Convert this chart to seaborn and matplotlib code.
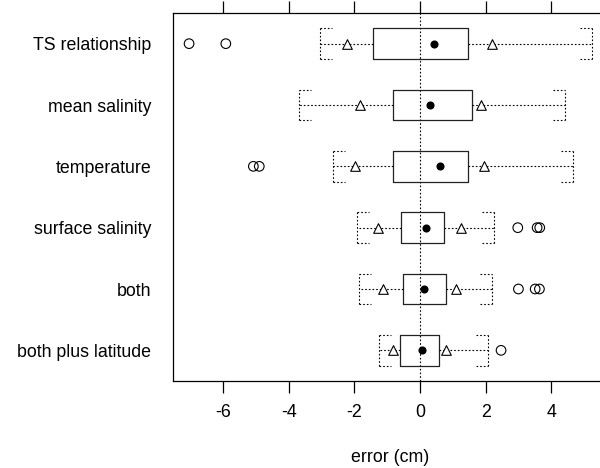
import numpy as np
import pandas as pd
import matplotlib
matplotlib.use("Agg")
import matplotlib.pyplot as plt
import seaborn as sns

# ---- data ----
categories = ["TS relationship", "mean salinity", "temperature",
              "surface salinity", "both", "both plus latitude"]
box_low = [-1.43, -0.81, -0.81, -0.57, -0.52, -0.62]
box_high = [1.45, 1.58, 1.47, 0.73, 0.79, 0.57]
means = [0.44, 0.31, 0.62, 0.17, 0.11, 0.07]
tri_low = [-2.23, -1.84, -1.97, -1.27, -1.12, -0.83]
tri_high = [2.20, 1.85, 1.96, 1.26, 1.10, 0.80]
whisk_low = [-3.05, -3.68, -2.66, -1.92, -1.86, -1.26]
whisk_high = [5.25, 4.43, 4.67, 2.26, 2.19, 2.08]
outlier_cat = ["TS relationship", "TS relationship", "temperature", "temperature",
               "surface salinity", "surface salinity", "surface salinity",
               "both", "both", "both", "both plus latitude"]
outlier_val = [-7.04, -5.92, -5.08, -4.90, 2.98, 3.57, 3.65, 3.00, 3.51, 3.64, 2.47]
x_ticks = [-6, -4, -2, 0, 2, 4]
x_label = "error (cm)"

sns.set_theme(style="white")
plt.rcParams["font.family"] = ["Liberation Sans", "DejaVu Sans"]
for k in ("text.color", "axes.labelcolor", "xtick.color", "ytick.color", "axes.edgecolor"):
    plt.rcParams[k] = "black"

n = len(categories)
pos_map = {c: n - i for i, c in enumerate(categories)}
positions = [pos_map[c] for c in categories]

summary = pd.DataFrame({"cat": categories, "pos": positions, "mean": means,
                        "tri_low": tri_low, "tri_high": tri_high})
outl = pd.DataFrame({"cat": outlier_cat, "val": outlier_val})
outl["pos"] = outl["cat"].map(pos_map)

fig = plt.figure(figsize=(6.0, 4.68), dpi=100)
ax = fig.add_axes([173 / 600, 87 / 468, 434 / 600, 368 / 468])

dot = (0, (1.5, 1.8))
BW = 0.5
ARM = 0.37

stats = [dict(q1=lo, q3=hi, med=m, whislo=wl, whishi=wh, fliers=[])
         for lo, hi, m, wl, wh in zip(box_low, box_high, means, whisk_low, whisk_high)]
ax.bxp(stats, positions=positions, widths=BW, orientation="horizontal",
       showfliers=False, manage_ticks=False, capwidths=BW,
       boxprops=dict(color="#222222", lw=0.9),
       medianprops=dict(lw=0),
       whiskerprops=dict(color="black", lw=0.8, linestyle=dot),
       capprops=dict(color="black", lw=0.8, linestyle=dot))

# bracket arms at whisker ends
for p, wl, wh in zip(positions, whisk_low, whisk_high):
    for yy in (p - BW / 2, p + BW / 2):
        ax.hlines(yy, wl, wl + ARM, color="black", lw=0.8, linestyle=dot)
        ax.hlines(yy, wh - ARM, wh, color="black", lw=0.8, linestyle=dot)

ax.axvline(0, color="black", lw=0.8, linestyle=dot, zorder=1)

sns.scatterplot(data=summary, x="mean", y="pos", marker="o", color="black",
                s=34, edgecolor="black", linewidth=0, ax=ax, zorder=5)
for col in ("tri_low", "tri_high"):
    sns.scatterplot(data=summary, x=col, y="pos", marker="^", facecolor="white",
                    edgecolor="black", s=48, linewidth=0.8, ax=ax, zorder=5)
sns.scatterplot(data=outl, x="val", y="pos", marker="o", facecolor="none",
                edgecolor="black", s=48, linewidth=0.8, ax=ax, zorder=5)

ax.set_xlim(-7.53, 5.7)
ax.set_ylim(0.5, n + 0.5)
ax.set_xticks(x_ticks)
ax.set_xticklabels([str(t) for t in x_ticks])
ax.set_yticks(positions)
ax.set_yticklabels(categories)
ax.set_xlabel(x_label, fontsize=12.8, labelpad=20)
ax.set_ylabel("")
ax.tick_params(axis="x", which="both", direction="out", length=8.6, width=0.9,
               color="black", labelcolor="black", top=True, bottom=True,
               labeltop=False, labelsize=12.8, pad=8)
ax.tick_params(axis="y", length=0, pad=15.8, labelsize=12.8, labelcolor="black")
for s in ("left", "top", "bottom"):
    ax.spines[s].set_visible(True)
    ax.spines[s].set_color("black")
    ax.spines[s].set_linewidth(0.9)
ax.spines["right"].set_visible(False)
ax.grid(False)
if ax.get_legend() is not None:
    ax.get_legend().remove()

fig.savefig("out.png", dpi=100)
